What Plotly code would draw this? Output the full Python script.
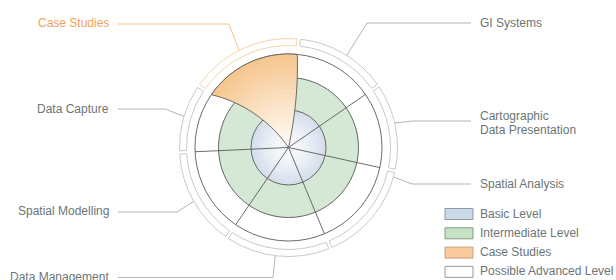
import numpy as np
import plotly.graph_objects as go

# ---------------- data ----------------
TOPICS = ["GI Systems", "Cartographic Data Presentation", "Spatial Analysis",
          "Data Management", "Spatial Modelling", "Data Capture", "Case Studies"]
SECTOR_WIDTHS = [50, 47, 55, 57, 53, 37, 61]          # degrees per topic
START_BEARING = 5.4                                     # first sector edge (clockwise from north)
BASIC_LEVEL = 37.5                                      # radial extent of levels
INTERMEDIATE_LEVEL = 70
ADVANCED_LEVEL = 93.5
RING_LEVEL = [102, 109]
LEGEND_LABELS = ["Basic Level", "Intermediate Level", "Case Studies", "Possible Advanced Level"]

# ---------------- layout constants ----------------
W, H = 616, 280
CX, CY = 288.5, 147.5
RMAX = 111
FONT = "Liberation Sans, Arial, sans-serif"
TXT = "#6c7575"
LINE = "#5a5a5a"

widths = np.array(SECTOR_WIDTHS, dtype=float)
edges = START_BEARING + np.concatenate([[0], np.cumsum(widths)])
centers = (edges[:-1] + edges[1:]) / 2
n = len(TOPICS)
case_i = TOPICS.index("Case Studies")


def hexrgb(h):
    h = h.lstrip("#")
    return np.array([int(h[i:i + 2], 16) for i in (0, 2, 4)], dtype=float)


def mix(c0, c1, t):
    c = hexrgb(c0) * (1 - t) + hexrgb(c1) * t
    return "rgb(%d,%d,%d)" % tuple(np.round(c))


fig = go.Figure()

# outer ring segments
ring_line = ["#c9c9c9"] * n
ring_line[case_i] = "#f7d3a8"
fig.add_trace(go.Barpolar(
    theta=centers, width=widths - 1.8, base=RING_LEVEL[0],
    r=[RING_LEVEL[1] - RING_LEVEL[0]] * n,
    marker=dict(color="white", line=dict(color=ring_line, width=1)),
    hoverinfo="skip", showlegend=False))

# intermediate ring
green = "#d5e8d5"
fig.add_trace(go.Barpolar(
    theta=centers, width=widths, base=BASIC_LEVEL,
    r=[INTERMEDIATE_LEVEL - BASIC_LEVEL] * n,
    marker=dict(color=green, line=dict(color=green, width=0.6)),
    hoverinfo="skip", showlegend=False))

# basic level (radial gradient bands)
NB = 12
th, ba, rr, ww, cc = [], [], [], [], []
for k in range(NB):
    t = ((k + 0.5) / NB) ** 1.6
    col = mix("#f9fafc", "#d2dcea", t)
    for i in range(n):
        th.append(centers[i]); ba.append(BASIC_LEVEL * k / NB)
        rr.append(BASIC_LEVEL / NB); ww.append(widths[i]); cc.append(col)
fig.add_trace(go.Barpolar(
    theta=th, width=ww, base=ba, r=rr,
    marker=dict(color=cc, line=dict(color=cc, width=0.6)),
    hoverinfo="skip", showlegend=False))

# level circles
fig.add_trace(go.Barpolar(
    theta=[0, 0, 0], width=[360, 360, 360], base=[0, 0, 0],
    r=[BASIC_LEVEL, INTERMEDIATE_LEVEL, ADVANCED_LEVEL],
    marker=dict(color="rgba(0,0,0,0)", line=dict(color=LINE, width=0.9)),
    hoverinfo="skip", showlegend=False))

# radial separators (the case-study petal draws its own edges)
rl, tl = [], []
for b in edges[1:case_i]:
    rl += [0, ADVANCED_LEVEL, None]
    tl += [b, b, None]
fig.add_trace(go.Scatterpolar(r=rl, theta=tl, mode="lines",
                              line=dict(color=LINE, width=0.9),
                              hoverinfo="skip", showlegend=False))

# case-study petal with curved edges
a_start, a_end = edges[case_i], edges[case_i + 1]
BULGE_L, BULGE_R = 21.0, 7.0
D_l = ADVANCED_LEVEL / np.sin(np.radians(BULGE_L))
D_r = ADVANCED_LEVEL / np.sin(np.radians(BULGE_R))
phi_l = a_start + BULGE_L - 90
phi_r = a_end + BULGE_R - 90


def petal(Rk, m=40):
    rs = np.linspace(0, Rk, m)
    tl_ = phi_l + np.degrees(np.arccos(rs / D_l))
    tr_ = phi_r + np.degrees(np.arccos(rs / D_r))
    arc = np.linspace(tl_[-1], tr_[-1], int(abs(tr_[-1] - tl_[-1])) + 2)
    r_all = np.concatenate([rs, np.full(len(arc), Rk), rs[::-1]])
    t_all = np.concatenate([tl_, arc, tr_[::-1]])
    return r_all, t_all


NP = 16
for k in range(NP):
    Rk = ADVANCED_LEVEL * (NP - k) / NP
    t = ((NP - k - 0.5) / NP) ** 1.1
    col = mix("#fffbf7", "#f6c58c", t)
    r_p, t_p = petal(Rk)
    fig.add_trace(go.Scatterpolar(r=r_p, theta=t_p, mode="lines", fill="toself",
                                  fillcolor=col, line=dict(width=0, color=col),
                                  hoverinfo="skip", showlegend=False))
r_p, t_p = petal(ADVANCED_LEVEL)
fig.add_trace(go.Scatterpolar(r=r_p, theta=t_p, mode="lines",
                              line=dict(color=LINE, width=0.9),
                              hoverinfo="skip", showlegend=False))

fig.update_layout(
    width=W, height=H, margin=dict(l=0, r=0, t=0, b=0),
    paper_bgcolor="white", plot_bgcolor="white",
    polar=dict(
        domain=dict(x=[(CX - RMAX) / W, (CX + RMAX) / W],
                    y=[(H - CY - RMAX) / H, (H - CY + RMAX) / H]),
        bgcolor="rgba(0,0,0,0)", barmode="overlay",
        radialaxis=dict(range=[0, RMAX], visible=False),
        angularaxis=dict(direction="clockwise", rotation=90, visible=False),
    ),
)


def px(x):
    return x / W


def py(y):
    return 1 - y / H


shapes, annots = [], []

# labels with leader lines: (text lines, side, label y's, attach bearing, elbow x, line y, colours)
LABELS = [
    (["Case Studies"], "left", [23], 333, 229, 24, "#f4a25a", "#f7c48c"),
    (["Data Capture"], "left", [109], 286.6, 165, 109, TXT, "#b4b4b4"),
    (["Spatial Modelling"], "left", [211], 240.4, 177, 212, TXT, "#b4b4b4"),
    (["Data Management"], "left", [277], 187, 273, 277.5, TXT, "#b4b4b4"),
    (["GI Systems"], "right", [23], 32.3, 367, 23, TXT, "#b4b4b4"),
    (["Cartographic", "Data Presentation"], "right", [116, 130], 77, 413, 121, TXT, "#b4b4b4"),
    (["Spatial Analysis"], "right", [184], 105.7, 412, 184, TXT, "#b4b4b4"),
]
for texts, side, ys, bear, ex, ly, tcol, lcol in LABELS:
    ax = CX + RING_LEVEL[1] * np.sin(np.radians(bear))
    ay = CY - RING_LEVEL[1] * np.cos(np.radians(bear))
    endx = 118 if side == "left" else 471
    shapes.append(dict(type="path", xref="paper", yref="paper",
                       path=f"M {px(endx)} {py(ly)} L {px(ex)} {py(ly)} L {px(ax)} {py(ay)}",
                       line=dict(color=lcol, width=1)))
    for t, y in zip(texts, ys):
        annots.append(dict(text=t, xref="paper", yref="paper",
                           x=px(111 if side == "left" else 478), y=py(y),
                           xanchor="right" if side == "left" else "left",
                           yanchor="middle", showarrow=False,
                           font=dict(family=FONT, size=12, color=tcol)))

# legend
LEG_FILL = ["#cbdae8", "#c6e3c6", "#f9c9a0", "#ffffff"]
LEG_LINE = ["#8c9aa6", "#809c82", "#c7a083", "#999999"]
for i, (lab, fc, lc) in enumerate(zip(LEGEND_LABELS, LEG_FILL, LEG_LINE)):
    yc = 214 + 19.3 * i
    shapes.append(dict(type="rect", xref="paper", yref="paper",
                       x0=px(445), x1=px(473), y0=py(yc - 5.5), y1=py(yc + 5.5),
                       fillcolor=fc, line=dict(color=lc, width=1)))
    annots.append(dict(text=lab, xref="paper", yref="paper", x=px(478), y=py(yc - 0.5),
                       xanchor="left", yanchor="middle", showarrow=False,
                       font=dict(family=FONT, size=12, color=TXT)))

fig.update_layout(shapes=shapes, annotations=annots)
fig.write_html("out.html", config={"displayModeBar": False},
               post_script="document.body.style.margin='0';")
